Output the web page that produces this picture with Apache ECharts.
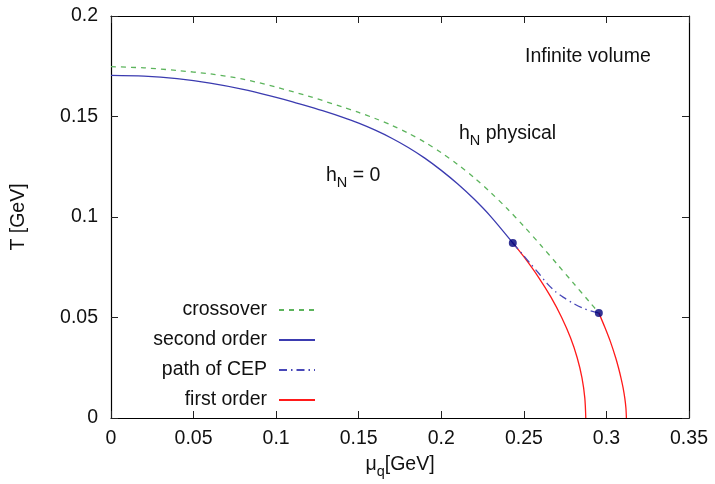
<!DOCTYPE html>
<html>
<head>
<meta charset="utf-8">
<script src="https://cdn.jsdelivr.net/npm/echarts@6/dist/echarts.min.js"></script>
<style>
  html, body { margin: 0; padding: 0; background: #ffffff; }
  #chart { width: 715px; height: 484px; }
</style>
</head>
<body>
<div id="chart"></div>
<script>
// Phase diagram in the (mu_q, T) plane, values in GeV.

// axis ticks
const xTicks = [0, 0.05, 0.1, 0.15, 0.2, 0.25, 0.3, 0.35];
const yTicks = [0, 0.05, 0.1, 0.15, 0.2];

// crossover line (physical h_N), ends at its critical end point
const crossover = [
  [0, 0.1748], [0.02, 0.1742], [0.04, 0.1729], [0.06, 0.1712], [0.08, 0.1686],
  [0.10, 0.1646], [0.12, 0.1600], [0.14, 0.1548], [0.15, 0.1520], [0.16, 0.1490],
  [0.17, 0.1456], [0.18, 0.1417], [0.19, 0.1372], [0.20, 0.1320], [0.21, 0.1261],
  [0.22, 0.1195], [0.23, 0.1121], [0.24, 0.1041], [0.25, 0.0954], [0.26, 0.0862],
  [0.27, 0.0767], [0.28, 0.0671], [0.29, 0.0575], [0.2954, 0.0523]
];

// second order line (h_N = 0), ends at its critical end point
const secondOrder = [
  [0, 0.1705], [0.02, 0.1701], [0.04, 0.1688], [0.06, 0.1666], [0.08, 0.1635],
  [0.10, 0.1595], [0.11, 0.1573], [0.12, 0.1549], [0.13, 0.1524], [0.14, 0.1497],
  [0.15, 0.1467], [0.16, 0.1432], [0.17, 0.1392], [0.18, 0.1346], [0.19, 0.1293],
  [0.20, 0.1232], [0.21, 0.1164], [0.22, 0.1088], [0.23, 0.1002], [0.2433, 0.0871]
];

// path of the critical end point between the two cases
const cepPath = [
  [0.2433, 0.0871], [0.2488, 0.0818], [0.2540, 0.0768], [0.2590, 0.0720],
  [0.2640, 0.0670], [0.2690, 0.0630], [0.2740, 0.0600], [0.2800, 0.0570],
  [0.2860, 0.0546], [0.2910, 0.0532], [0.2954, 0.0523]
];

// first order lines below each end point
const firstOrderA = [
  [0.2433, 0.0871], [0.2502, 0.0800], [0.2589, 0.0700], [0.2665, 0.0600],
  [0.2729, 0.0500], [0.2782, 0.0400], [0.2823, 0.0300], [0.2852, 0.0200],
  [0.2869, 0.0100], [0.2875, 0]
];
const firstOrderB = [
  [0.2954, 0.0523], [0.2991, 0.0450], [0.3024, 0.0380], [0.3056, 0.0300],
  [0.3073, 0.0250], [0.3088, 0.0200], [0.3101, 0.0150], [0.3111, 0.0100],
  [0.3118, 0.0050], [0.3121, 0]
];

// critical end points
const endPoints = [[0.2433, 0.0871], [0.2954, 0.0523]];

const FONT = '"Liberation Sans", Arial, Helvetica, sans-serif';
const FS = 19.5;
const BLUE = '#3b3bb0';
const CEPBLUE = '#4848b8';
const GREEN = '#5cb45c';
const RED = '#ff1a1a';

const chart = echarts.init(document.getElementById('chart'), null, { renderer: 'canvas' });

const axisBase = {
  type: 'value',
  axisLine: { show: true, onZero: false, lineStyle: { color: '#000', width: 1.2 } },
  axisTick: { show: true, inside: true, length: 7, lineStyle: { color: '#222', width: 1 } },
  splitLine: { show: false }
};

const xRange = { min: xTicks[0], max: xTicks[xTicks.length - 1], interval: xTicks[1] - xTicks[0] };
const yRange = { min: yTicks[0], max: yTicks[yTicks.length - 1], interval: yTicks[1] - yTicks[0] };

const subRich = {
  m: { fontSize: FS, fontFamily: FONT, color: '#111' },
  s: { fontSize: 14.5, fontFamily: FONT, color: '#111', padding: [13, 0, 0, 0] }
};

chart.setOption({
  animation: false,
  backgroundColor: '#ffffff',
  textStyle: { fontFamily: FONT },
  grid: { left: 111, right: 26, top: 16, bottom: 64, containLabel: false },
  xAxis: [
    Object.assign({}, axisBase, xRange, {
      position: 'bottom',
      name: '{m|μ}{s|q}{m|[GeV]}',
      nameLocation: 'middle',
      nameGap: 33,
      nameTextStyle: { rich: subRich },
      axisLabel: { show: true, margin: 11, fontSize: FS, color: '#111', fontFamily: FONT }
    }),
    Object.assign({}, axisBase, xRange, {
      position: 'top',
      axisLabel: { show: false }
    })
  ],
  yAxis: [
    Object.assign({}, axisBase, yRange, {
      position: 'left',
      name: 'T [GeV]',
      nameLocation: 'middle',
      nameRotate: 90,
      nameGap: 82,
      nameTextStyle: { fontSize: FS, color: '#111', fontFamily: FONT },
      axisLabel: { show: true, margin: 13, fontSize: FS, color: '#111', fontFamily: FONT }
    }),
    Object.assign({}, axisBase, yRange, {
      position: 'right',
      axisLabel: { show: false }
    })
  ],
  legend: {
    data: ['crossover', 'second order', 'path of CEP', 'first order'],
    orient: 'vertical',
    align: 'right',
    right: 399,
    top: 300,
    padding: 0,
    itemWidth: 36,
    itemHeight: 14,
    itemGap: 10,
    selectedMode: false,
    itemStyle: { opacity: 0 },
    textStyle: { fontSize: FS, color: '#111', fontFamily: FONT, padding: [0, 7, 0, 0] }
  },
  graphic: [
    {
      type: 'text', x: 525, y: 57, z: 10,
      style: { text: 'Infinite volume', font: FS + 'px ' + FONT, fill: '#111', align: 'left', verticalAlign: 'middle' }
    },
    {
      type: 'text', x: 459, y: 134, z: 10,
      style: { text: '{m|h}{s|N}{m| physical}', rich: subRich, fill: '#111', align: 'left', verticalAlign: 'middle' }
    },
    {
      type: 'text', x: 326, y: 176, z: 10,
      style: { text: '{m|h}{s|N}{m| = 0}', rich: subRich, fill: '#111', align: 'left', verticalAlign: 'middle' }
    }
  ],
  series: [
    {
      name: 'crossover', type: 'line', data: crossover, smooth: 0.3,
      symbol: 'none', lineStyle: { color: GREEN, width: 1.3, type: [5, 5] },
      itemStyle: { color: GREEN }, z: 2
    },
    {
      name: 'second order', type: 'line', data: secondOrder, smooth: 0.3,
      symbol: 'none', lineStyle: { color: BLUE, width: 1.3, type: 'solid' },
      itemStyle: { color: BLUE }, z: 3
    },
    {
      name: 'path of CEP', type: 'line', data: cepPath, smooth: 0.3,
      symbol: 'none', lineStyle: { color: CEPBLUE, width: 1.3, type: [8, 4, 1.5, 4] },
      itemStyle: { color: CEPBLUE }, z: 3
    },
    {
      name: 'first order', type: 'line', data: firstOrderA, smooth: 0.3,
      symbol: 'none', lineStyle: { color: RED, width: 1.3 },
      itemStyle: { color: RED }, z: 2
    },
    {
      name: 'first order', type: 'line', data: firstOrderB, smooth: 0.3,
      symbol: 'none', lineStyle: { color: RED, width: 1.3 },
      itemStyle: { color: RED }, z: 2
    },
    {
      name: 'CEP', type: 'scatter', data: endPoints,
      symbol: 'circle', symbolSize: 8,
      itemStyle: { color: '#00007a' }, z: 5
    }
  ]
});
</script>
</body>
</html>
